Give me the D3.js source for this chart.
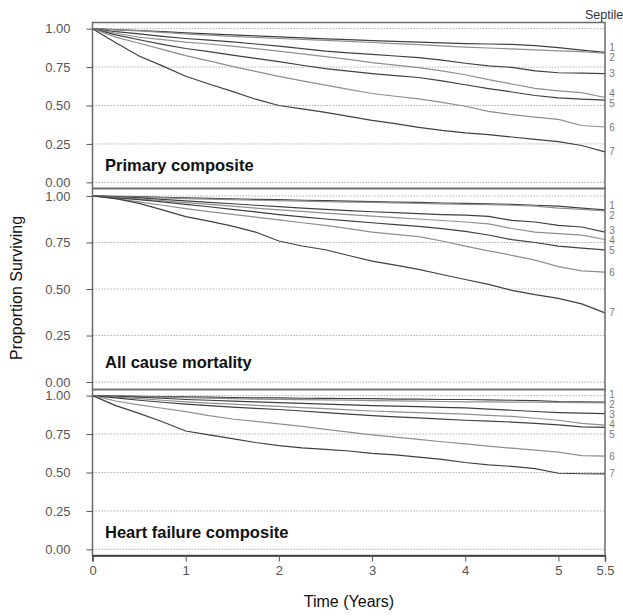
<!DOCTYPE html>
<html>
<head>
<meta charset="utf-8">
<script src="https://cdn.jsdelivr.net/npm/d3@7"></script>
<style>
  body { margin: 0; background: #fff; }
  svg { display: block; font-family: "Liberation Sans", Arial, sans-serif; }
</style>
</head>
<body>
<svg id="chart" width="623" height="616"></svg>
<script>
// follow-up time (years)
const times = [0, 0.25, 0.5, 0.75, 1, 1.25, 1.5, 1.75, 2, 2.25, 2.5, 2.75, 3,
  3.25, 3.5, 3.75, 4, 4.25, 4.5, 4.75, 5, 5.25, 5.5];

const septiles = ["1", "2", "3", "4", "5", "6", "7"];
const panelTitles = ["Primary composite", "All cause mortality", "Heart failure composite"];
const yTicks = [0, 0.25, 0.5, 0.75, 1];
const xTicks = [0, 1, 2, 3, 4, 5, 5.5];

// survival per septile
const primaryComposite = [
  [1, .994, .988, .98, .972, .966, .96, .953, .946, .94, .934, .928, .922, .917, .912, .907, .902, .9, .898, .89, .877, .86, .845],
  [1, .992, .985, .976, .966, .958, .95, .943, .936, .93, .924, .917, .91, .903, .896, .888, .88, .874, .868, .862, .856, .85, .84],
  [1, .98, .966, .95, .936, .925, .914, .9, .886, .87, .854, .843, .833, .822, .811, .795, .775, .758, .748, .725, .713, .71, .708],
  [1, .97, .944, .928, .912, .9, .886, .87, .854, .836, .818, .8, .779, .763, .747, .725, .7, .668, .64, .612, .595, .584, .552],
  [1, .96, .928, .898, .871, .85, .828, .806, .785, .762, .74, .724, .708, .695, .682, .66, .635, .61, .588, .565, .55, .542, .535],
  [1, .945, .905, .865, .825, .79, .755, .722, .69, .66, .632, .605, .578, .56, .543, .52, .495, .462, .44, .425, .41, .37, .36],
  [1, .908, .822, .758, .69, .64, .592, .541, .5, .478, .455, .429, .403, .382, .358, .338, .322, .31, .295, .28, .265, .24, .198]
];

const allCauseMortality = [
  [1, .998, .996, .993, .99, .987, .985, .982, .98, .977, .975, .972, .97, .967, .965, .962, .96, .958, .955, .95, .945, .935, .925],
  [1, .997, .994, .99, .986, .983, .98, .977, .975, .972, .97, .967, .965, .962, .96, .957, .955, .953, .95, .945, .935, .928, .92],
  [1, .995, .99, .982, .973, .965, .958, .95, .943, .935, .928, .921, .915, .91, .905, .9, .897, .89, .869, .86, .842, .833, .806],
  [1, .993, .985, .975, .964, .955, .945, .935, .925, .917, .908, .9, .892, .884, .876, .868, .86, .85, .825, .806, .798, .789, .766],
  [1, .99, .98, .968, .955, .942, .928, .914, .9, .888, .876, .866, .856, .846, .836, .824, .81, .79, .765, .75, .73, .72, .71],
  [1, .986, .968, .95, .932, .916, .901, .886, .871, .856, .842, .824, .806, .794, .781, .758, .73, .705, .681, .655, .62, .597, .591],
  [1, .986, .96, .925, .889, .865, .838, .806, .758, .731, .711, .68, .65, .628, .605, .578, .551, .525, .493, .47, .45, .42, .372]
];

const heartFailureComposite = [
  [1, .998, .996, .994, .992, .99, .988, .986, .985, .983, .982, .98, .98, .978, .977, .975, .975, .972, .97, .968, .962, .96, .958],
  [1, .997, .994, .99, .987, .984, .981, .978, .976, .974, .972, .97, .968, .966, .964, .962, .96, .959, .958, .957, .956, .955, .953],
  [1, .996, .99, .983, .975, .97, .965, .96, .955, .95, .945, .94, .935, .932, .928, .924, .92, .912, .905, .897, .89, .886, .883],
  [1, .99, .98, .97, .96, .952, .945, .937, .93, .922, .915, .907, .9, .895, .89, .885, .88, .872, .865, .853, .84, .82, .808],
  [1, .985, .97, .957, .945, .935, .925, .917, .91, .9, .89, .88, .87, .862, .855, .847, .84, .834, .828, .82, .81, .797, .794],
  [1, .965, .94, .918, .896, .87, .848, .832, .816, .8, .781, .763, .745, .73, .716, .7, .686, .672, .658, .645, .632, .61, .606],
  [1, .935, .885, .83, .77, .745, .72, .695, .675, .66, .65, .64, .625, .615, .6, .585, .565, .55, .54, .525, .495, .492, .491]
];

const panels = [primaryComposite, allCauseMortality, heartFailureComposite];

const svg = d3.select("#chart");
const left = 92.5, right = 605;
const panelTop = [22.5, 188.5, 389.5];
const panelH = [166, 201, 166];
const lineColors = ["#404040", "#8f8f8f", "#404040", "#8f8f8f", "#404040", "#8f8f8f", "#404040"];

const x = d3.scaleLinear().domain([0, 5.5]).range([left, right]);

panels.forEach((series, p) => {
  const y = d3.scaleLinear()
    .domain([-0.04, 1.04])
    .range([panelTop[p] + panelH[p], panelTop[p]]);

  const g = svg.append("g");

  // dotted grid
  g.selectAll(".grid")
    .data(yTicks)
    .join("line")
    .attr("x1", left).attr("x2", right)
    .attr("y1", d => y(d)).attr("y2", d => y(d))
    .attr("stroke", "#9a9a9a")
    .attr("stroke-width", 0.8)
    .attr("stroke-dasharray", "1.5,1.5");

  // y axis
  const yAxis = g.append("g")
    .attr("transform", `translate(${left},0)`)
    .call(d3.axisLeft(y).tickValues(yTicks).tickFormat(d3.format(".2f")).tickSize(6).tickPadding(16))
    .call(a => a.select(".domain").remove());
  yAxis.selectAll("line").attr("stroke", "#555");
  yAxis.selectAll("text")
    .attr("fill", "#555")
    .style("font-size", "13px")
    .style("font-family", "\"Liberation Sans\", Arial, sans-serif");

  // survival curves
  const line = d3.line()
    .x((d, i) => x(times[i]))
    .y(d => y(d));

  g.selectAll(".curve")
    .data(series)
    .join("path")
    .attr("fill", "none")
    .attr("stroke", (d, i) => lineColors[i])
    .attr("stroke-width", 1.2)
    .attr("d", line);

  // septile labels at the right, spread apart so they don't overlap
  const pos = series.map(s => y(s[s.length - 1]));
  for (let k = 0; k < 100; k++) {
    for (let i = 1; i < pos.length; i++) {
      const gap = pos[i] - pos[i - 1];
      if (gap < 10) {
        const push = (10 - gap) / 2;
        pos[i - 1] -= push;
        pos[i] += push;
      }
    }
  }
  g.selectAll(".septile")
    .data(septiles)
    .join("text")
    .attr("x", 612)
    .attr("y", (d, i) => pos[i])
    .attr("dy", "0.35em")
    .attr("text-anchor", "middle")
    .attr("fill", "#777")
    .style("font-size", "10px")
    .text(d => d);

  // panel title
  g.append("text")
    .attr("x", left + 12.5)
    .attr("y", y(0.075))
    .attr("font-weight", "bold")
    .attr("fill", "#111")
    .style("font-size", "16.5px")
    .text(panelTitles[p]);

  // panel frame
  g.append("rect")
    .attr("x", left).attr("y", panelTop[p])
    .attr("width", right - left).attr("height", panelH[p])
    .attr("fill", "none")
    .attr("stroke", "#6a6a6a")
    .attr("stroke-width", 1.5);
});

// x axis at the bottom
const xAxis = svg.append("g")
  .attr("transform", `translate(0,${panelTop[2] + panelH[2]})`)
  .call(d3.axisBottom(x).tickValues(xTicks).tickFormat(d => d).tickSize(6).tickPadding(4));
xAxis.select(".domain").attr("stroke", "#333").attr("stroke-width", 1.5);
xAxis.selectAll("line").attr("stroke", "#555");
xAxis.selectAll("text")
  .attr("fill", "#555")
  .style("font-size", "13px")
  .style("font-family", "\"Liberation Sans\", Arial, sans-serif");

svg.append("text")
  .attr("x", 585)
  .attr("y", 19)
  .attr("fill", "#333")
  .style("font-size", "12.5px")
  .text("Septile");

svg.append("text")
  .attr("transform", "translate(22,288) rotate(-90)")
  .attr("text-anchor", "middle")
  .attr("fill", "#111")
  .style("font-size", "16px")
  .text("Proportion Surviving");

svg.append("text")
  .attr("x", 349)
  .attr("y", 607)
  .attr("text-anchor", "middle")
  .attr("fill", "#111")
  .style("font-size", "16px")
  .text("Time (Years)");
</script>
</body>
</html>
